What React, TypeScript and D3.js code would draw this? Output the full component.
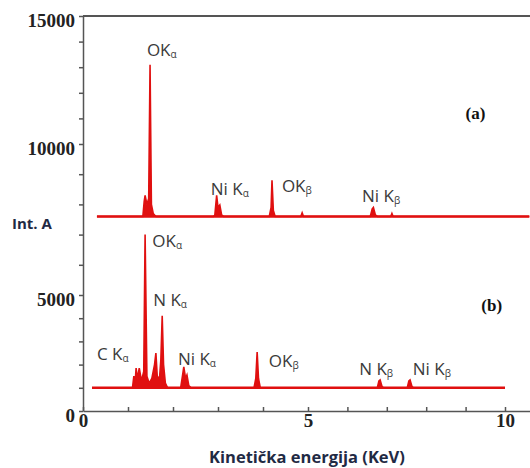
import React, { useRef, useEffect } from 'react';
import * as d3 from 'd3';

// spectrum (a) - energy in keV, intensity as plotted
const energyA = [0.31, 1.33, 1.36, 1.38, 1.42, 1.46, 1.49, 1.52, 1.56, 1.62, 2.9, 2.93, 2.97, 3.0, 3.04, 3.08, 3.12, 4.14, 4.18, 4.2, 4.23, 4.27, 4.84, 4.87, 4.9, 6.58, 6.63, 6.66, 6.71, 6.76, 7.1, 7.13, 7.16, 10.63];
const intensityA = [7600, 7600, 8100, 8300, 8000, 8200, 13100, 8000, 7700, 7600, 7600, 7650, 8300, 7900, 7980, 7650, 7600, 7600, 7900, 8800, 7800, 7600, 7600, 7720, 7600, 7600, 7850, 7900, 7650, 7600, 7600, 7700, 7600, 7600];
const baseA = 7600;

// spectrum (b)
const energyB = [0.2, 1.1, 1.13, 1.16, 1.18, 1.21, 1.25, 1.3, 1.35, 1.38, 1.42, 1.47, 1.53, 1.59, 1.62, 1.65, 1.7, 1.73, 1.76, 1.79, 1.83, 1.88, 2.17, 2.21, 2.24, 2.28, 2.31, 2.35, 2.4, 3.8, 3.84, 3.87, 3.9, 3.94, 6.76, 6.8, 6.83, 6.88, 6.92, 7.52, 7.56, 7.59, 7.64, 7.68, 10.0];
const intensityB = [1000, 1000, 1500, 1250, 1850, 1400, 1850, 1300, 1700, 7000, 1500, 1200, 1400, 2000, 2500, 1500, 1400, 2200, 4100, 2000, 1200, 1000, 1000, 1500, 1900, 1400, 1550, 1100, 1000, 1000, 1400, 2540, 1400, 1000, 1000, 1300, 1340, 1050, 1000, 1000, 1300, 1340, 1050, 1000, 1000];
const baseB = 1000;

// peak labels: [main, subscript, keV anchor, intensity anchor]
const peakLabels = [
    ['OK', 'α', 1.42, 13450],
    ['Ni K', 'α', 2.84, 8300],
    ['OK', 'β', 4.42, 8420],
    ['Ni K', 'β', 6.37, 8080],
    ['C K', 'α', 0.31, 2200],
    ['OK', 'α', 1.54, 6600],
    ['N K', 'α', 1.56, 4520],
    ['Ni K', 'α', 2.11, 1980],
    ['OK', 'β', 4.13, 1900],
    ['N K', 'β', 6.3, 1550],
    ['Ni K', 'β', 7.66, 1550],
];

const yMajor = [0, 5000, 10000, 15000];
const xMajor = [0, 5, 10];

const App = () => {
    const svgRef = useRef(null);

    useEffect(() => {
        const width = 530;
        const height = 468;

        const svg = d3.select(svgRef.current)
            .attr('width', width)
            .attr('height', height);
        svg.selectAll('*').remove();

        // the source figure is unevenly stretched, so piecewise scales
        const xScale = d3.scaleLinear().domain([0, 5, 10, 10.7]).range([83, 308, 505, 532]);
        const yScale = d3.scaleLinear().domain([0, 5000, 10000, 15000]).range([411, 295, 144, 16]);

        const axisColor = '#555';

        // top frame line
        svg.append('line')
            .attr('x1', xScale(0)).attr('x2', width)
            .attr('y1', yScale(15000)).attr('y2', yScale(15000))
            .attr('stroke', axisColor).attr('stroke-width', 2);

        // y axis
        const yAxis = d3.axisLeft(yScale)
            .tickValues(d3.range(0, 15001, 1000))
            .tickSize(4)
            .tickSizeOuter(0)
            .tickPadding(4)
            .tickFormat((d) => (yMajor.includes(d) ? String(d) : ''));
        const gy = svg.append('g').attr('transform', `translate(${xScale(0)},0)`).call(yAxis);
        gy.selectAll('path, line').attr('stroke', axisColor).attr('stroke-width', 1.5);
        gy.selectAll('text')
            .attr('font-family', '"Liberation Serif", serif')
            .attr('font-weight', 'bold')
            .attr('font-size', 19)
            .attr('fill', '#222')
            .attr('dy', '0.53em');

        // x axis, ticks pointing inward
        const xAxis = d3.axisBottom(xScale)
            .tickValues(d3.range(0, 11, 1))
            .tickSize(-4)
            .tickSizeOuter(0)
            .tickPadding(2)
            .tickFormat((d) => (xMajor.includes(d) ? String(d) : ''));
        const gx = svg.append('g').attr('transform', `translate(0,${yScale(0)})`).call(xAxis);
        gx.selectAll('path, line').attr('stroke', axisColor).attr('stroke-width', 1.5);
        gx.selectAll('text')
            .attr('font-family', '"Liberation Serif", serif')
            .attr('font-weight', 'bold')
            .attr('font-size', 19)
            .attr('fill', '#222');

        // spectra
        const red = '#e01010';
        const drawSpectrum = (xs, ys, base) => {
            const pts = xs.map((x, i) => [x, ys[i]]);
            const area = d3.area()
                .x((d) => xScale(d[0]))
                .y0(yScale(base))
                .y1((d) => yScale(d[1]));
            const line = d3.line()
                .x((d) => xScale(d[0]))
                .y((d) => yScale(d[1]));
            svg.append('path').datum(pts).attr('d', area).attr('fill', red);
            svg.append('path').datum(pts).attr('d', line)
                .attr('fill', 'none').attr('stroke', red).attr('stroke-width', 1.6);
            svg.append('line')
                .attr('x1', xScale(xs[0])).attr('x2', xScale(xs[xs.length - 1]))
                .attr('y1', yScale(base)).attr('y2', yScale(base))
                .attr('stroke', red).attr('stroke-width', 2.6);
        };
        drawSpectrum(energyA, intensityA, baseA);
        drawSpectrum(energyB, intensityB, baseB);

        // peak labels
        peakLabels.forEach(([main, sub, kev, val]) => {
            const t = svg.append('text')
                .attr('x', xScale(kev))
                .attr('y', yScale(val))
                .attr('font-family', '"Open Sans", sans-serif')
                .attr('font-size', 17)
                .attr('fill', '#3a3a3a');
            t.append('tspan').text(main);
            t.append('tspan').attr('font-size', 10).attr('dy', 2).text(sub);
        });

        // panel marks
        const panelMark = (txt, kev, val) => svg.append('text')
            .attr('x', xScale(kev)).attr('y', yScale(val))
            .attr('font-family', '"Liberation Serif", serif')
            .attr('font-weight', 'bold')
            .attr('font-size', 17)
            .attr('fill', '#111')
            .text(txt);
        panelMark('(a)', 9.0, 10980);
        panelMark('(b)', 9.4, 4300);

        // axis titles
        svg.append('text')
            .attr('x', 12).attr('y', 229)
            .attr('font-family', '"Open Sans", sans-serif')
            .attr('font-weight', 'bold')
            .attr('font-size', 15)
            .attr('fill', '#1f2a44')
            .text('Int. A');

        svg.append('text')
            .attr('x', 307).attr('y', 463)
            .attr('text-anchor', 'middle')
            .attr('font-family', '"Open Sans", sans-serif')
            .attr('font-weight', 'bold')
            .attr('font-size', 16.5)
            .attr('fill', '#1f2a44')
            .text('Kinetička energija (KeV)');
    }, []);

    return <svg ref={svgRef} style={{ position: 'absolute', left: 0, top: 0, background: '#fff' }}></svg>;
};

export default App;
